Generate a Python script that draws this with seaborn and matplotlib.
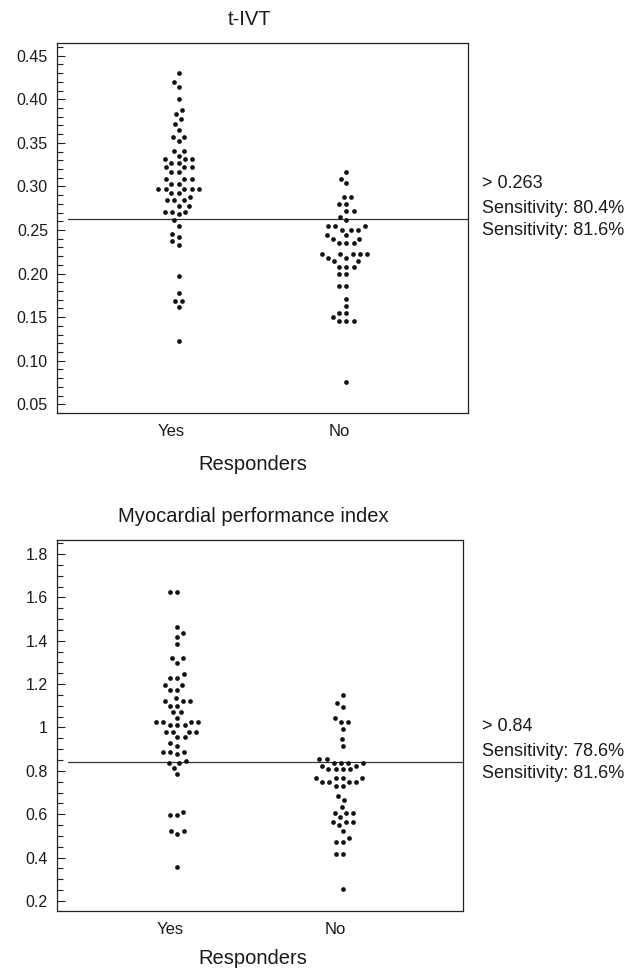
import matplotlib
matplotlib.use("Agg")
import matplotlib.pyplot as plt
import numpy as np
import pandas as pd
import seaborn as sns
from matplotlib.ticker import MultipleLocator
from matplotlib.transforms import ScaledTranslation

# ---------------- data ----------------
groups = ["Yes", "No"]

tivt_yes = [0.430, 0.420, 0.414, 0.400, 0.388, 0.383, 0.377, 0.372, 0.365,
            0.357, 0.357, 0.352, 0.341, 0.341, 0.335,
            0.331, 0.331, 0.331, 0.327, 0.327, 0.322, 0.322, 0.322,
            0.317, 0.317, 0.308, 0.308, 0.308, 0.303, 0.303,
            0.297, 0.297, 0.297, 0.297, 0.297, 0.292, 0.292, 0.288,
            0.284, 0.284, 0.284, 0.278, 0.278, 0.271, 0.271, 0.271, 0.268,
            0.261, 0.255, 0.245, 0.242, 0.237, 0.233,
            0.197, 0.178, 0.169, 0.169, 0.162, 0.123]
tivt_no = [0.317, 0.309, 0.304, 0.2875, 0.2875, 0.280, 0.280, 0.272, 0.272,
           0.265, 0.261, 0.254, 0.254, 0.254, 0.250, 0.250, 0.250,
           0.244, 0.244, 0.240, 0.240, 0.235, 0.235, 0.235,
           0.222, 0.222, 0.222, 0.222, 0.222, 0.218, 0.218, 0.214, 0.214,
           0.208, 0.208, 0.208, 0.200, 0.200, 0.186, 0.186,
           0.171, 0.163, 0.155, 0.155, 0.150, 0.145, 0.145, 0.145, 0.075]

mpi_yes = [1.625, 1.625, 1.465, 1.434, 1.416, 1.384, 1.319, 1.319, 1.299,
           1.245, 1.230, 1.230, 1.196, 1.196, 1.173, 1.173, 1.137,
           1.122, 1.122, 1.122, 1.101, 1.101, 1.072, 1.072, 1.045,
           1.027, 1.027, 1.027, 1.027, 1.012, 1.012, 1.012,
           0.981, 0.981, 0.981, 0.981, 0.955, 0.955, 0.927, 0.915,
           0.889, 0.889, 0.889, 0.877,
           0.845, 0.835, 0.835, 0.812, 0.784, 0.612, 0.595, 0.595,
           0.523, 0.523, 0.508, 0.356]
mpi_no = [1.149, 1.114, 1.093, 1.042, 1.024, 1.024, 0.993, 0.948, 0.916,
          0.853, 0.853, 0.838, 0.838, 0.838, 0.838, 0.823, 0.823,
          0.807, 0.807, 0.807, 0.807, 0.766, 0.766, 0.766, 0.766,
          0.747, 0.747, 0.747, 0.747, 0.730, 0.730, 0.684, 0.666, 0.635,
          0.607, 0.607, 0.607, 0.586, 0.564, 0.564, 0.564, 0.549, 0.521,
          0.489, 0.471, 0.471, 0.416, 0.416, 0.257]

tivt_cut = 0.263
mpi_cut = 0.84
tivt_text = ["> 0.263", "Sensitivity: 80.4%", "Sensitivity: 81.6%"]
mpi_text = ["> 0.84", "Sensitivity: 78.6%", "Sensitivity: 81.6%"]

tivt_ticks = [0.05, 0.10, 0.15, 0.20, 0.25, 0.30, 0.35, 0.40, 0.45]
tivt_ticklabels = ["0.05", "0.10", "0.15", "0.20", "0.25", "0.30", "0.35", "0.40", "0.45"]
mpi_ticks = [0.2, 0.4, 0.6, 0.8, 1.0, 1.2, 1.4, 1.6, 1.8]
mpi_ticklabels = ["0.2", "0.4", "0.6", "0.8", "1", "1.2", "1.4", "1.6", "1.8"]

titles = ["t-IVT", "Myocardial performance index"]
xlabel = "Responders"


def long_form(yes, no):
    return pd.DataFrame({"Responders": ["Yes"] * len(yes) + ["No"] * len(no),
                         "value": list(yes) + list(no)})


# ---------------- figure ----------------
sns.set_theme(style="white")
plt.rcParams["font.family"] = ["Liberation Sans", "DejaVu Sans"]
plt.rcParams["text.color"] = "#1a1a1a"

fig = plt.figure(figsize=(6.42, 9.68), dpi=100)
ax1 = fig.add_axes([0.0888, 0.5731, 0.6402, 0.3829])
ax2 = fig.add_axes([0.0888, 0.0592, 0.6324, 0.3830])

panels = [
    (ax1, long_form(tivt_yes, tivt_no), tivt_cut, (0.0397, 0.465), tivt_ticks,
     tivt_ticklabels, 0.01, titles[0], tivt_text, (250 - 57) / 411, (253 - 57) / 411, 11),
    (ax2, long_form(mpi_yes, mpi_no), mpi_cut, (0.155, 1.865), mpi_ticks,
     mpi_ticklabels, 0.05, titles[1], mpi_text, (253 - 57) / 406, (253 - 57) / 406, 8.5),
]

for ax, df, cut, ylim, ticks, ticklabels, minor, title, texts, tx, lx, lpad in panels:
    sns.swarmplot(data=df, x="Responders", y="value", order=groups, ax=ax,
                  color="#111111", size=5.0, linewidth=0)
    ax.set_ylim(*ylim)
    ax.set_xlim(-0.726, 1.726)
    ax.set_yticks(ticks)
    ax.set_yticklabels(ticklabels)
    ax.yaxis.set_minor_locator(MultipleLocator(minor))
    ax.tick_params(axis="y", which="major", direction="in", length=6, width=0.8,
                   color="#222222", labelsize=11.5, pad=6.5, left=True)
    ax.tick_params(axis="y", which="minor", direction="in", length=4.5, width=0.8,
                   color="#222222", left=True)
    ax.tick_params(axis="x", length=0, labelsize=12, pad=8, labelcolor="#1a1a1a")
    ax.tick_params(axis="y", labelcolor="#1a1a1a")
    for lbl in ax.get_xticklabels():
        lbl.set_transform(lbl.get_transform() +
                          ScaledTranslation(-7 / 100, 0, fig.dpi_scale_trans))
    for sp in ax.spines.values():
        sp.set_visible(True)
        sp.set_color("#222222")
        sp.set_linewidth(0.9)
    ax.axhline(cut, xmin=0.027, xmax=1.0, color="#333333", lw=0.9, zorder=1)
    ax.set_title(title, x=tx, fontsize=14.5, pad=13, color="#1a1a1a")
    ax.set_xlabel(xlabel, fontsize=14.5, labelpad=lpad, x=lx, color="#1a1a1a")
    ax.set_ylabel("")
    for txt, dy in zip(texts, [22.3, 4.3, -11.5]):
        ax.annotate(txt, xy=(482 / 642, cut), xycoords=("figure fraction", "data"),
                    xytext=(0, dy), textcoords="offset points",
                    ha="left", va="baseline", fontsize=13, color="#1a1a1a")

# compute swarm positions, then draw the dots a bit smaller
fig.canvas.draw()
for ax in (ax1, ax2):
    for coll in ax.collections:
        if "draw" in coll.__dict__:
            del coll.draw
        coll.set_sizes([3.4 ** 2])

fig.savefig("out.png", dpi=100)
